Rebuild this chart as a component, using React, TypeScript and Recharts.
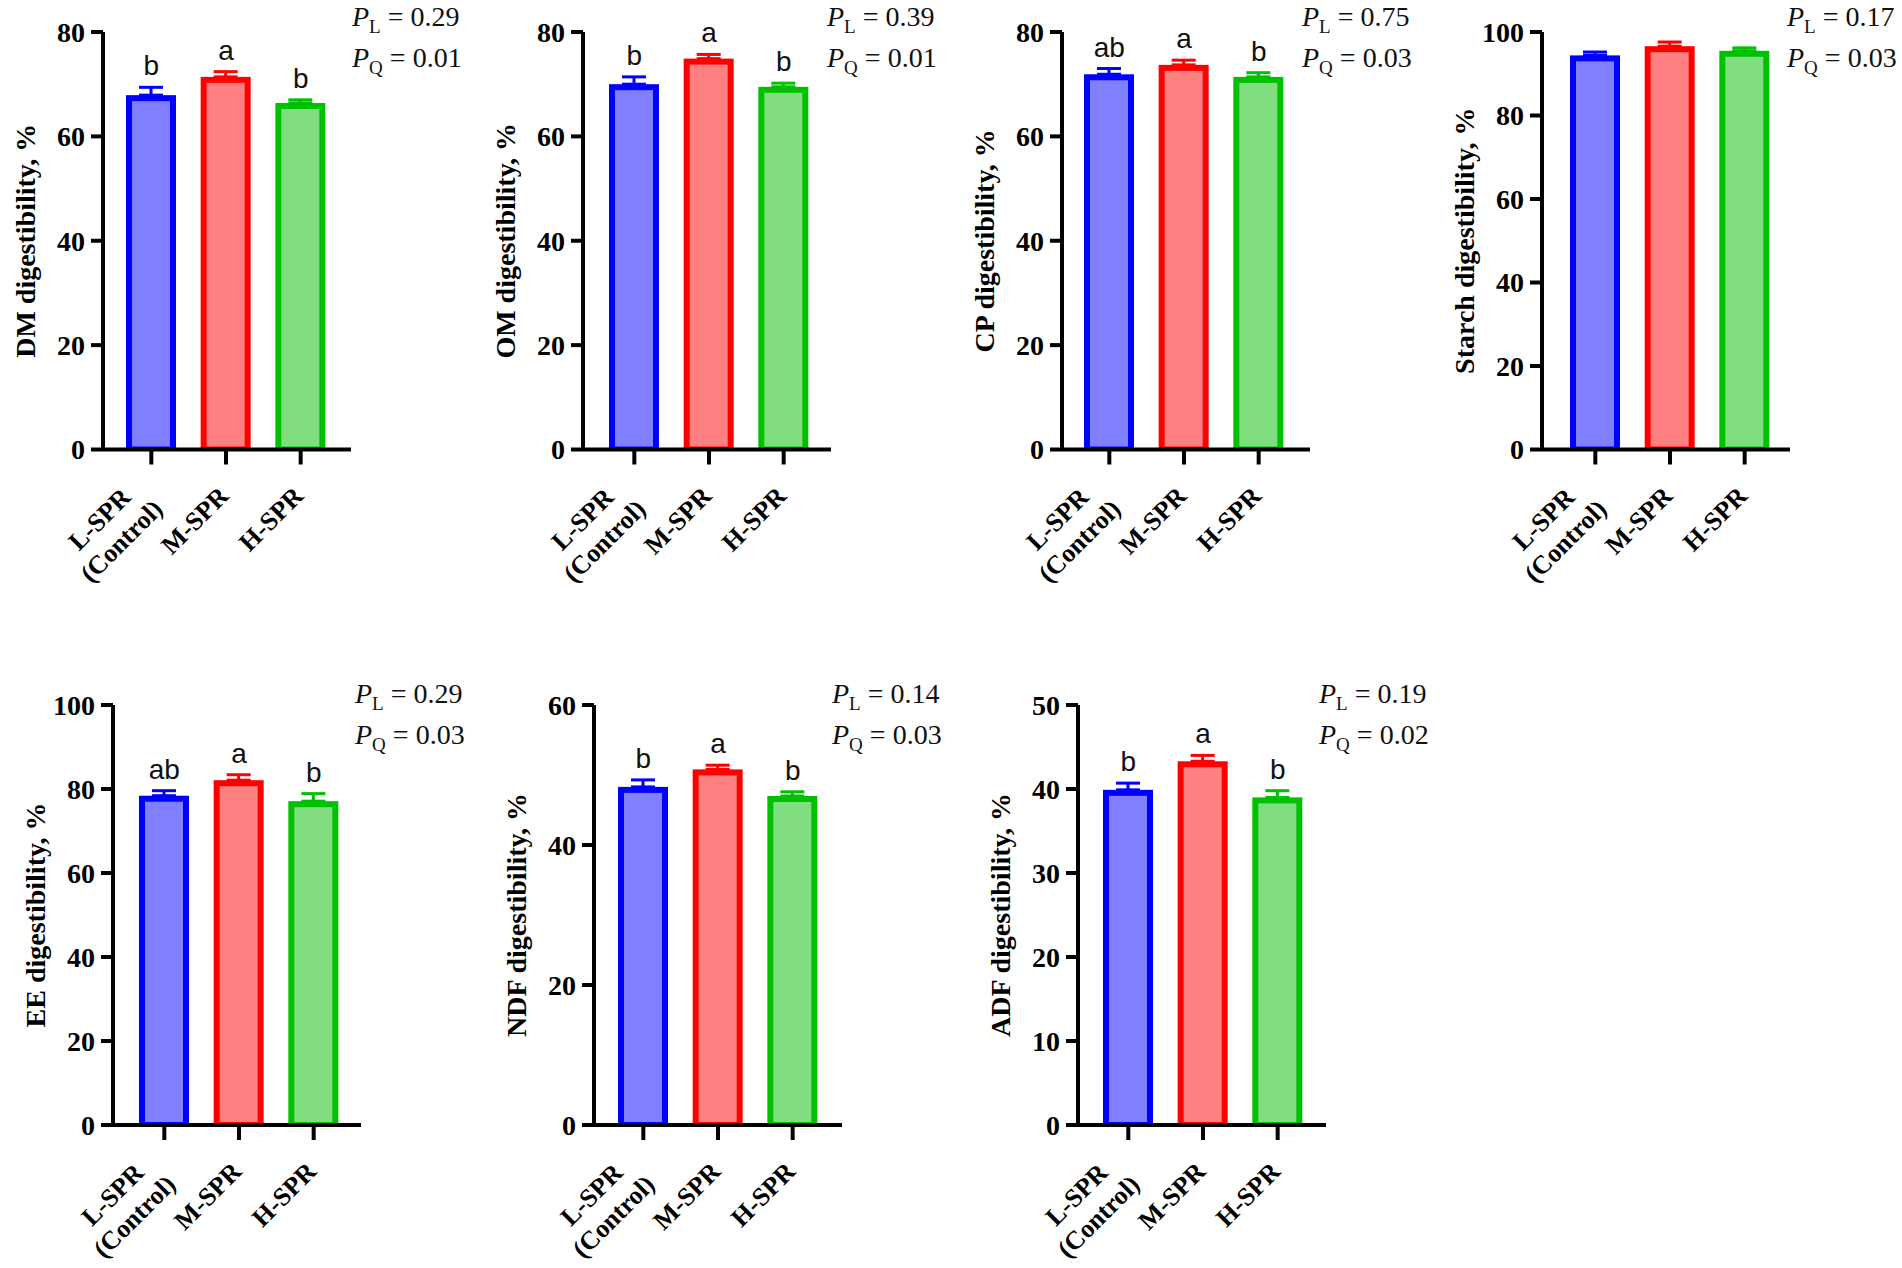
import React from 'react';
import {
  ComposedChart, Bar, Line, XAxis, YAxis, ErrorBar, LabelList,
} from 'recharts';

// treatments on the x axis
const groups = ['L-SPR\n(Control)', 'M-SPR', 'H-SPR'];

// means, SE and letters
const dmMean = [67.9, 71.4, 66.4];
const dmSe = [1.5, 1.0, 0.6];
const dmLetters = ['b', 'a', 'b'];

const omMean = [70.0, 74.9, 69.5];
const omSe = [1.4, 0.8, 0.7];
const omLetters = ['b', 'a', 'b'];

const cpMean = [71.9, 73.7, 71.4];
const cpSe = [1.1, 0.9, 0.8];
const cpLetters = ['ab', 'a', 'b'];

const starchMean = [94.4, 96.6, 95.5];
const starchSe = [0.8, 1.0, 0.7];

const eeMean = [78.4, 82.1, 77.1];
const eeSe = [1.2, 1.3, 1.8];
const eeLetters = ['ab', 'a', 'b'];

const ndfMean = [48.3, 50.8, 47.0];
const ndfSe = [1.0, 0.6, 0.6];
const ndfLetters = ['b', 'a', 'b'];

const adfMean = [39.9, 43.3, 39.0];
const adfSe = [0.8, 0.7, 0.8];
const adfLetters = ['b', 'a', 'b'];

const ticks80 = [0, 20, 40, 60, 80];
const ticks100 = [0, 20, 40, 60, 80, 100];
const ticks60 = [0, 20, 40, 60];
const ticks50 = [0, 10, 20, 30, 40, 50];

const series = [
  { key: 'L', fill: '#8080ff', stroke: '#0000ff' },
  { key: 'M', fill: '#ff8080', stroke: '#ff0000' },
  { key: 'H', fill: '#80de80', stroke: '#00c000' },
];

const SERIF = '"Liberation Serif", "Times New Roman", serif';
const SANS = '"Liberation Sans", Arial, sans-serif';
const CAT_SIZE = 26;
const CAT_FONT = `bold ${CAT_SIZE}px ${SERIF}`;

const YW = 100;
const RIGHT = 12;
const TOPM = 30;
const XH = 190;
const PLOT_W = 248;
const CW = YW + PLOT_W + RIGHT;

const buildRows = (mean: number[], se: number[], letters?: string[]) =>
  groups.map((name, i) => {
    const row: any = { name, top: mean[i] + se[i], letter: letters ? letters[i] : '' };
    series.forEach((s, j) => {
      row[s.key] = i === j ? mean[i] : undefined;
      row[s.key + 'Err'] = i === j ? [0, se[i]] : undefined;
    });
    return row;
  });

let ctx: CanvasRenderingContext2D | null = null;
const textWidth = (s: string) => {
  if (!ctx) ctx = document.createElement('canvas').getContext('2d');
  if (!ctx) return s.length * CAT_SIZE * 0.5;
  ctx.font = CAT_FONT;
  return ctx.measureText(s).width;
};

const BorderBar = (props: any) => {
  const { x, y, width, height, fill, stroke } = props;
  if (!height || height <= 0) return null;
  const sw = 6;
  return (
    <rect x={x + sw / 2} y={y + sw / 2} width={width - sw} height={height - sw / 2}
      fill={fill} stroke={stroke} strokeWidth={sw} />
  );
};

// rotated category label; multi-line labels are centred on their widest line
const CatTick = (props: any) => {
  const { x, y, payload } = props;
  const lines = String(payload.value).split('\n');
  const g = (children: React.ReactNode) => (
    <g transform={`translate(${x + 4},${y + 31}) rotate(-45)`}
      fontFamily={SERIF} fontWeight="bold" fontSize={CAT_SIZE} fill="#000">{children}</g>
  );
  if (lines.length === 1) {
    return g(<text x={0} y={0} textAnchor="end">{lines[0]}</text>);
  }
  const maxW = Math.max(...lines.map(textWidth));
  const step = 31;
  return g(lines.map((l, i) => (
    <text key={i} x={-3 - maxW / 2} y={(i - (lines.length - 1) / 2) * step} textAnchor="middle">{l}</text>
  )));
};

const yLabel = (text: string) => (p: any) => {
  const vb = p.viewBox || {};
  const cx = vb.x + YW - 78;
  const cy = vb.y + vb.height / 2;
  return (
    <text x={cx} y={cy} transform={`rotate(-90, ${cx}, ${cy})`} textAnchor="middle"
      dominantBaseline="central" fontFamily={SERIF} fontWeight="bold" fontSize={28} fill="#000">
      {text}
    </text>
  );
};

const letterLabel = (p: any) => {
  const x = p.x ?? p.viewBox?.x;
  const y = p.y ?? p.viewBox?.y;
  if (!p.value) return null;
  return (
    <text x={x} y={y - 12} textAnchor="middle" fontFamily={SANS} fontSize={28} fill="#111">
      {p.value}
    </text>
  );
};

type PanelProps = {
  axisX: number; plotTop: number; plotBottom: number; padLeft: number;
  rows: any[]; yMax: number; yTicks: number[]; label: string; letters?: boolean;
};

const Panel = ({ axisX, plotTop, plotBottom, padLeft, rows, yMax, yTicks, label, letters }: PanelProps) => {
  const h = TOPM + (plotBottom - plotTop) + XH;
  return (
    <div style={{ position: 'absolute', left: axisX - YW, top: plotTop - TOPM }}>
      <ComposedChart width={CW} height={h} data={rows} style={{ overflow: 'visible' }}
        margin={{ top: TOPM, right: RIGHT, bottom: 0, left: 0 }}>
        <XAxis dataKey="name" interval={0} padding={{ left: padLeft, right: 24 - padLeft }} height={XH}
          axisLine={{ stroke: '#000', strokeWidth: 4 }} tickLine={{ stroke: '#000', strokeWidth: 4 }}
          tickSize={15} tick={<CatTick />} />
        <YAxis domain={[0, yMax]} ticks={yTicks} width={YW} allowDataOverflow
          axisLine={{ stroke: '#000', strokeWidth: 4 }} tickLine={{ stroke: '#000', strokeWidth: 4 }}
          tickSize={12} tickMargin={6}
          tick={{ fontFamily: SERIF, fontWeight: 'bold', fontSize: 28, fill: '#000' }}
          label={{ content: yLabel(label) }} />
        {series.map((s) => (
          <Bar key={s.key} dataKey={s.key} stackId="g" barSize={50} fill={s.fill} stroke={s.stroke}
            shape={<BorderBar />} isAnimationActive={false}>
            <ErrorBar dataKey={s.key + 'Err'} width={12} stroke={s.stroke} strokeWidth={3} />
          </Bar>
        ))}
        {letters && (
          <Line dataKey="top" stroke="none" dot={false} activeDot={false} isAnimationActive={false}>
            <LabelList dataKey="letter" content={letterLabel} />
          </Line>
        )}
      </ComposedChart>
    </div>
  );
};

const PLabel = ({ x, y, pl, pq }: { x: number; y: number; pl: string; pq: string }) => (
  <g fontFamily={SERIF} fontSize={28} fill="#111">
    <text x={x} y={y}>
      <tspan fontStyle="italic">P</tspan>
      <tspan fontSize={19} dy={7}>L</tspan>
      <tspan dy={-7}>{` = ${pl}`}</tspan>
    </text>
    <text x={x} y={y + 41}>
      <tspan fontStyle="italic">P</tspan>
      <tspan fontSize={19} dy={7}>Q</tspan>
      <tspan dy={-7}>{` = ${pq}`}</tspan>
    </text>
  </g>
);

export default function App() {
  return (
    <div style={{ position: 'absolute', left: 0, top: 0, width: 1902, height: 1268, background: '#fff', overflow: 'hidden' }}>
      <Panel axisX={103} plotTop={31.5} plotBottom={449} padLeft={11} rows={buildRows(dmMean, dmSe, dmLetters)}
        yMax={80} yTicks={ticks80} label="DM digestibility, %" letters />
      <Panel axisX={583} plotTop={31.5} plotBottom={449} padLeft={14} rows={buildRows(omMean, omSe, omLetters)}
        yMax={80} yTicks={ticks80} label="OM digestibility,  %" letters />
      <Panel axisX={1062} plotTop={31.5} plotBottom={449} padLeft={10} rows={buildRows(cpMean, cpSe, cpLetters)}
        yMax={80} yTicks={ticks80} label="CP digestibility,  %" letters />
      <Panel axisX={1542} plotTop={31.5} plotBottom={449} padLeft={16} rows={buildRows(starchMean, starchSe)}
        yMax={100} yTicks={ticks100} label="Starch digestibility,  %" />
      <Panel axisX={113} plotTop={705} plotBottom={1125} padLeft={14} rows={buildRows(eeMean, eeSe, eeLetters)}
        yMax={100} yTicks={ticks100} label="EE digestibility,  %" letters />
      <Panel axisX={594} plotTop={705} plotBottom={1125} padLeft={12} rows={buildRows(ndfMean, ndfSe, ndfLetters)}
        yMax={60} yTicks={ticks60} label="NDF digestibility,  %" letters />
      <Panel axisX={1078} plotTop={705} plotBottom={1125} padLeft={13} rows={buildRows(adfMean, adfSe, adfLetters)}
        yMax={50} yTicks={ticks50} label="ADF digestibility,  %" letters />
      <svg width={1902} height={1268} style={{ position: 'absolute', left: 0, top: 0, pointerEvents: 'none' }}>
        <PLabel x={352} y={26} pl="0.29" pq="0.01" />
        <PLabel x={827} y={26} pl="0.39" pq="0.01" />
        <PLabel x={1302} y={26} pl="0.75" pq="0.03" />
        <PLabel x={1787} y={26} pl="0.17" pq="0.03" />
        <PLabel x={355} y={703} pl="0.29" pq="0.03" />
        <PLabel x={832} y={703} pl="0.14" pq="0.03" />
        <PLabel x={1319} y={703} pl="0.19" pq="0.02" />
      </svg>
    </div>
  );
}
